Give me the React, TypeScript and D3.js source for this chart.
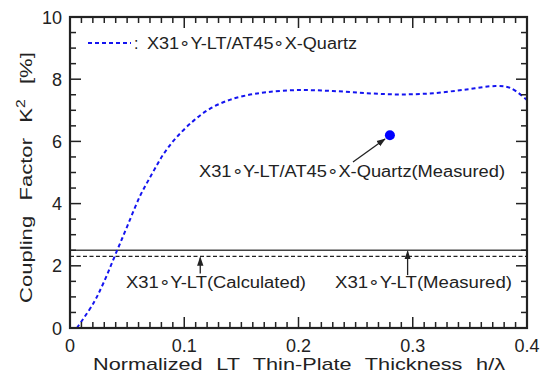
import * as d3 from "d3";
import { useRef, useEffect } from "react";

// thickness h/lambda and coupling factor K^2 [%] for X31°Y-LT/AT45°X-Quartz (calculated)
const hValues = [0.006, 0.0204, 0.0292, 0.0414, 0.05, 0.061, 0.072, 0.082, 0.093, 0.108, 0.122, 0.137, 0.152, 0.172, 0.2, 0.23, 0.26, 0.289, 0.318, 0.347, 0.373, 0.386, 0.4];
const k2Values = [0, 0.79, 1.44, 2.51, 3.26, 4.22, 4.97, 5.6, 6.12, 6.66, 7.04, 7.3, 7.46, 7.58, 7.65, 7.62, 7.55, 7.51, 7.55, 7.67, 7.78, 7.71, 7.33];

const measuredPoint = { h: 0.28, k2: 6.2 };
const ltCalculated = 2.3;
const ltMeasured = 2.5;

const xTicks = [0, 0.1, 0.2, 0.3, 0.4];
const yTicks = [0, 2, 4, 6, 8, 10];

const width = 550;
const height = 373;
const marginLeft = 70;
const marginRight = 23;
const marginTop = 17;
const marginBottom = 45;

const font = "'Liberation Sans', Arial, sans-serif";
const ink = "#222";
const blue = "#1414f0";

export default function App() {
  const gAxes = useRef<SVGGElement | null>(null);

  const x = d3.scaleLinear().domain([0, 0.4]).range([marginLeft, width - marginRight]);
  const y = d3.scaleLinear().domain([0, 10]).range([height - marginBottom, marginTop]);

  useEffect(() => {
    if (!gAxes.current) return;
    const g = d3.select(gAxes.current);
    g.selectAll("*").remove();
    const x0 = marginLeft, x1 = width - marginRight;
    const y0 = height - marginBottom, y1 = marginTop;

    const minorX = d3.range(0, 41).map((i) => i / 100);
    const minorY = d3.range(0, 21).map((i) => i / 2);

    const style = (sel: any, w: number) => sel.attr("stroke", ink).attr("stroke-width", w);

    // ticks point inward on all four sides
    const t = g.append("g");
    minorX.forEach((v) => {
      const major = Math.abs(v * 10 - Math.round(v * 10)) < 1e-6;
      const len = major ? 11 : 6;
      style(t.append("line").attr("x1", x(v)).attr("x2", x(v)).attr("y1", y0).attr("y2", y0 - len), 1.5);
      style(t.append("line").attr("x1", x(v)).attr("x2", x(v)).attr("y1", y1).attr("y2", y1 + len), 1.5);
    });
    minorY.forEach((v) => {
      const major = Number.isInteger(v / 2);
      const len = major ? 11 : 6;
      style(t.append("line").attr("x1", x0).attr("x2", x0 + len).attr("y1", y(v)).attr("y2", y(v)), 1.5);
      style(t.append("line").attr("x1", x1).attr("x2", x1 - len).attr("y1", y(v)).attr("y2", y(v)), 1.5);
    });

    g.append("rect")
      .attr("x", x0).attr("y", y1).attr("width", x1 - x0).attr("height", y0 - y1)
      .attr("fill", "none").attr("stroke", ink).attr("stroke-width", 2.2);

    xTicks.forEach((v) => {
      g.append("text").attr("x", x(v)).attr("y", y0 + 23.5).attr("text-anchor", "middle")
        .attr("font-size", 18).attr("font-family", font).attr("fill", ink)
        .text(String(v));
    });
    yTicks.forEach((v) => {
      g.append("text").attr("x", x0 - 8).attr("y", y(v) + 6.5).attr("text-anchor", "end")
        .attr("font-size", 18).attr("font-family", font).attr("fill", ink)
        .text(String(v));
    });
  }, [x, y]);

  const line = d3
    .line<number>()
    .x((_, i) => x(hValues[i]))
    .y((d) => y(d))
    .curve(d3.curveCatmullRom);

  const annFont = { fontFamily: font, fontSize: 16, fill: ink } as const;

  return (
    <svg width={width} height={height} style={{ position: "absolute", left: 0, top: 0, background: "#fff" }}>
      <defs>
        <marker id="arr" viewBox="0 0 10 10" refX="9" refY="5" markerWidth="7" markerHeight="7" orient="auto-start-reverse">
          <path d="M0,1.5 L10,5 L0,8.5 z" fill={ink} />
        </marker>
      </defs>

      <line x1={x(0)} x2={x(0.4)} y1={y(ltMeasured)} y2={y(ltMeasured)} stroke="#444" strokeWidth={1.6} />
      <line x1={x(0)} x2={x(0.4)} y1={y(ltCalculated)} y2={y(ltCalculated)} stroke={ink} strokeWidth={1.3} strokeDasharray="4 2.5" />

      <path d={line(k2Values) || ""} fill="none" stroke={blue} strokeWidth={2} strokeDasharray="4 3" />

      <circle cx={x(measuredPoint.h)} cy={y(measuredPoint.k2)} r={5} fill="#0000ff" />

      {/* arrows */}
      <line x1={x(0.114)} x2={x(0.114)} y1={y(1.75)} y2={y(ltCalculated) + 1} stroke={ink} strokeWidth={1.3} markerEnd="url(#arr)" />
      <line x1={x(0.2955)} x2={x(0.2955)} y1={y(1.7)} y2={y(ltMeasured) + 1} stroke={ink} strokeWidth={1.3} markerEnd="url(#arr)" />
      <line x1={x(0.2477)} x2={x(0.2757)} y1={y(5.34)} y2={y(6.08)} stroke={ink} strokeWidth={1.3} markerEnd="url(#arr)" />

      <text x={126} y={288} textLength={180} lengthAdjust="spacingAndGlyphs" {...annFont}>X31∘Y-LT(Calculated)</text>
      <text x={335} y={288} textLength={177} lengthAdjust="spacingAndGlyphs" {...annFont}>X31∘Y-LT(Measured)</text>
      <text x={199} y={177} textLength={306} lengthAdjust="spacingAndGlyphs" {...annFont}>X31∘Y-LT/AT45∘X-Quartz(Measured)</text>

      {/* legend */}
      <line x1={88} x2={131} y1={43} y2={43} stroke={blue} strokeWidth={2} strokeDasharray="4 3" />
      <text x={134} y={49} {...annFont}>:</text>
      <text x={147} y={49} textLength={210} lengthAdjust="spacingAndGlyphs" {...annFont}>X31∘Y-LT/AT45∘X-Quartz</text>

      <g ref={gAxes} />

      <text x={93} y={370} textLength={412} lengthAdjust="spacingAndGlyphs" fontFamily={font} fontSize={17} fill={ink} wordSpacing={6}>
        Normalized LT Thin-Plate Thickness h/λ
      </text>
      <text transform="translate(32,303) rotate(-90) scale(1.3,1)" fontFamily={font} fontSize={17} fill={ink} wordSpacing={7}>
        Coupling Factor K<tspan dy={-7} fontSize={12}>2</tspan><tspan dy={7}> [%]</tspan>
      </text>
    </svg>
  );
}
